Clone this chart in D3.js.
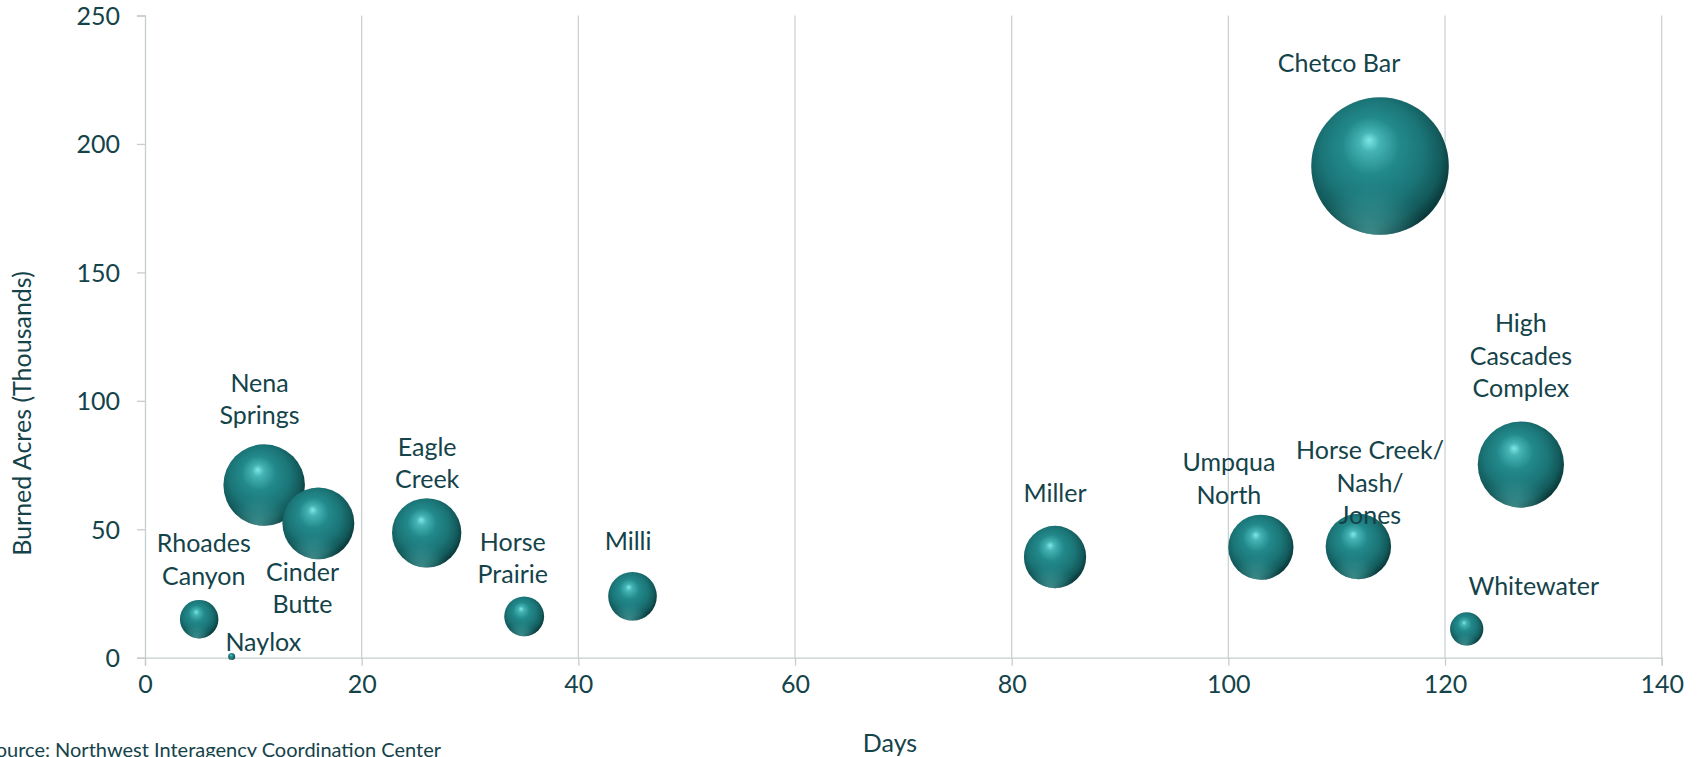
<!DOCTYPE html>
<html>
<head>
<meta charset="utf-8">
<script src="https://cdn.jsdelivr.net/npm/d3@7"></script>
<style>
  html, body { margin: 0; padding: 0; background: #ffffff; overflow: hidden; }
  svg { display: block; }
  text { font-family: Lato, "Open Sans", sans-serif; fill: #14434a; }
</style>
</head>
<body>
<svg id="chart" width="1698" height="757"></svg>
<script>
// ---- data ----
const fires = ["Rhoades Canyon", "Naylox", "Nena Springs", "Cinder Butte", "Eagle Creek",
  "Horse Prairie", "Milli", "Miller", "Umpqua North", "Horse Creek/ Nash/ Jones",
  "Chetco Bar", "Whitewater", "High Cascades Complex"];
const labelLines = [["Rhoades", "Canyon"], ["Naylox"], ["Nena", "Springs"], ["Cinder", "Butte"],
  ["Eagle", "Creek"], ["Horse", "Prairie"], ["Milli"], ["Miller"], ["Umpqua", "North"],
  ["Horse Creek/", "Nash/", "Jones"], ["Chetco Bar"], ["Whitewater"], ["High", "Cascades", "Complex"]];
const days = [5, 8, 11, 16, 26, 35, 45, 84, 103, 112, 114, 122, 127];
const acresK = [15.0, 0.5, 67.2, 52.3, 48.6, 16.1, 23.9, 39.2, 43.0, 43.3, 191.4, 11.2, 75.2];
const xTicks = [0, 20, 40, 60, 80, 100, 120, 140];
const yTicks = [0, 50, 100, 150, 200, 250];
const xTitle = "Days";
const yTitle = "Burned Acres (Thousands)";
const sourceText = "Source: Northwest Interagency Coordination Center";

// ---- layout (label offsets from bubble centre, px) ----
const labelOffsets = [[4.6, -76], [31.6, -14.7], [-4.6, -102.5], [-15.8, 48.4], [0.5, -86.1],
  [-11.4, -74.6], [-4.4, -55.5], [0, -63.7], [-32, -85.3], [11.7, -96.3],
  [-41, -103.5], [67, -43], [0, -141.3]];
const lineGap = 32.6;

const W = 1698, H = 757;
const m = { left: 145, top: 15.5, right: W - 1661.7, bottom: H - 657.7 };

const svg = d3.select("#chart");
const x = d3.scaleLinear().domain([0, 140]).range([m.left, W - m.right]);
const y = d3.scaleLinear().domain([0, 250]).range([H - m.bottom, m.top]);
const r = d3.scaleSqrt().domain([0, 191.4]).range([0, 68.8]);

// gradients
const defs = svg.append("defs");
const g1 = defs.append("radialGradient").attr("id", "ball")
  .attr("cx", "0.46").attr("cy", "0.44").attr("r", "0.6")
  .attr("fx", "0.42").attr("fy", "0.31");
[[0, "#7ee8e8"], [0.12, "#45b3b4"], [0.35, "#22898b"], [0.62, "#1b7577"], [0.82, "#135a5b"], [1, "#062b2c"]]
  .forEach(([o, c]) => g1.append("stop").attr("offset", o).attr("stop-color", c));
const g2 = defs.append("radialGradient").attr("id", "refl")
  .attr("cx", "0.42").attr("cy", "1.02").attr("r", "0.42");
[[0, "#6fd0d0", 0.55], [0.6, "#4fb0b0", 0.25], [1, "#2a8a8a", 0]]
  .forEach(([o, c, a]) => g2.append("stop").attr("offset", o).attr("stop-color", c).attr("stop-opacity", a));

// grid lines (vertical)
const grid = svg.append("g");
grid.selectAll("line").data(xTicks.filter(d => d > 0)).join("line")
  .attr("x1", d => x(d)).attr("x2", d => x(d))
  .attr("y1", y(250)).attr("y2", y(0))
  .attr("stroke", "#cdd3d3").attr("stroke-width", 1.3);

// axes
const xAxis = svg.append("g").attr("transform", `translate(0,${y(0)})`)
  .call(d3.axisBottom(x).tickValues(xTicks).tickSize(8).tickPadding(9).tickFormat(d3.format("d")));
const yAxis = svg.append("g").attr("transform", `translate(${x(0)},0)`)
  .call(d3.axisLeft(y).tickValues(yTicks).tickSize(8).tickPadding(17).tickFormat(d3.format("d")));
[xAxis, yAxis].forEach(a => {
  a.select(".domain").attr("stroke", "#c6cdcd").attr("stroke-width", 1.3);
  a.selectAll(".tick line").attr("stroke", "#c6cdcd").attr("stroke-width", 1.3);
  a.selectAll(".tick text").attr("font-size", 25).attr("fill", "#14434a")
    .style("font-family", "Lato, sans-serif");
});
xAxis.selectAll(".tick text").attr("dy", "0.72em");
yAxis.selectAll(".tick text").attr("dy", "0.36em");

// bubbles
const data = fires.map((f, i) => ({ name: f, lines: labelLines[i], x: days[i], y: acresK[i], off: labelOffsets[i] }));
const bub = svg.append("g");
const order = data.slice().sort((a, b) => acresK[fires.indexOf(b.name)] - acresK[fires.indexOf(a.name)]);
const ng = bub.selectAll("g").data(data).join("g");
ng.append("circle").attr("cx", d => x(d.x)).attr("cy", d => y(d.y)).attr("r", d => Math.max(3.5, r(d.y)))
  .attr("fill", "url(#ball)");
ng.append("circle").attr("cx", d => x(d.x)).attr("cy", d => y(d.y)).attr("r", d => Math.max(3.5, r(d.y)))
  .attr("fill", "url(#refl)");

// labels
const lab = svg.append("g");
data.forEach(d => {
  const t = lab.append("text").attr("text-anchor", "middle").attr("font-size", 25);
  d.lines.forEach((ln, j) => {
    t.append("tspan").attr("x", x(d.x) + d.off[0])
      .attr("y", y(d.y) + d.off[1] + j * lineGap).attr("dy", "0.36em").text(ln);
  });
});

// axis titles
svg.append("text").attr("x", 890).attr("y", 743).attr("dy", "0.36em")
  .attr("text-anchor", "middle").attr("font-size", 25).text(xTitle);
svg.append("text").attr("transform", "translate(22,413.5) rotate(-90)").attr("dy", "0.36em")
  .attr("text-anchor", "middle").attr("font-size", 25).text(yTitle);
svg.append("text").attr("x", 441).attr("y", 750).attr("dy", "0.36em")
  .attr("text-anchor", "end").attr("font-size", 20).text(sourceText);
</script>
</body>
</html>
